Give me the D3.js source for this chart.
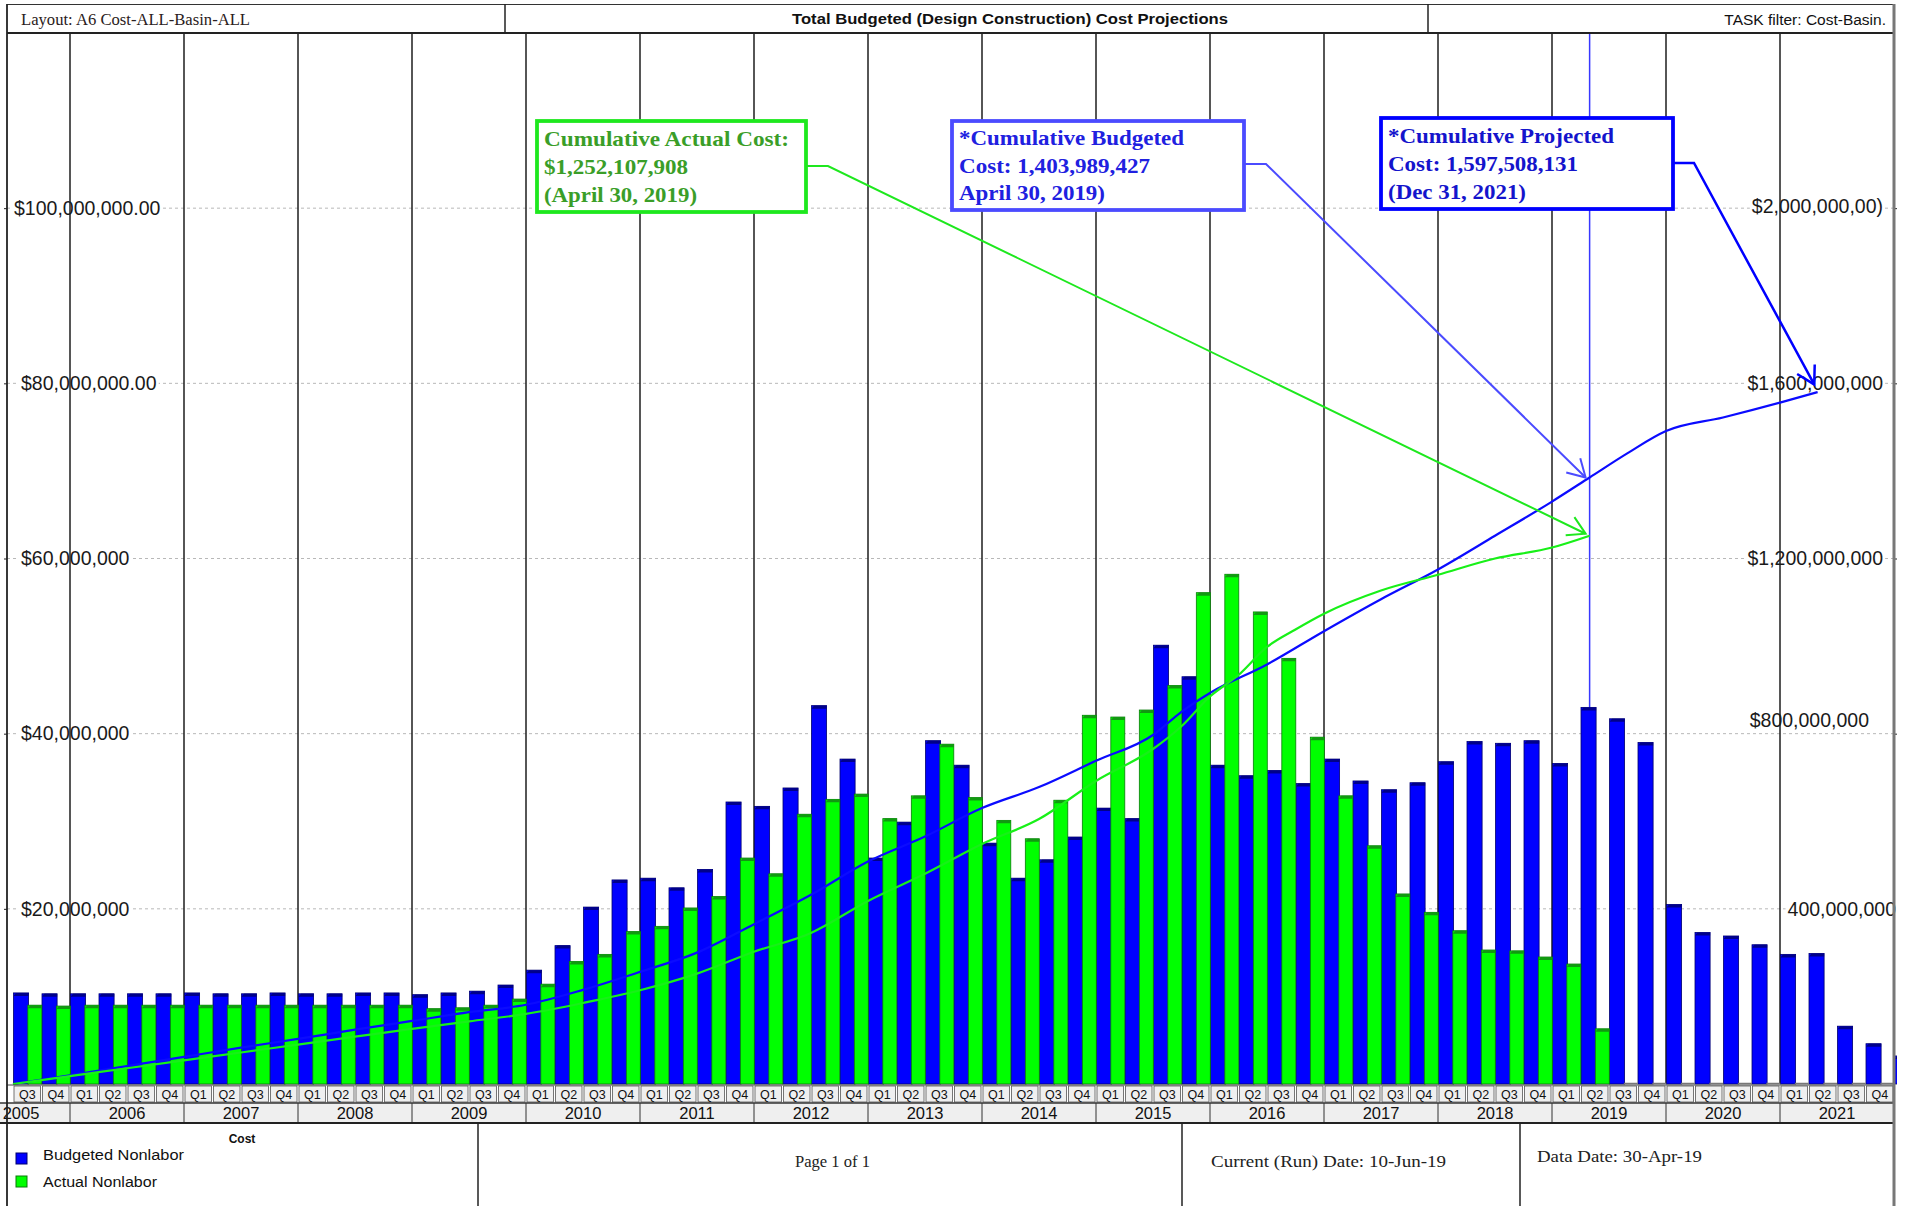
<!DOCTYPE html>
<html>
<head>
<meta charset="utf-8">
<title>Total Budgeted (Design Construction) Cost Projections</title>
<script src="https://cdn.jsdelivr.net/npm/d3@7"></script>
<style>
  body { margin: 0; background: #fff; }
  svg { display: block; }
</style>
</head>
<body>
<div id="chart"></div>
<script>
// quarters on the time axis (the last one is cut by the frame)
var quarters = [
  "2005 Q3","2005 Q4",
  "2006 Q1","2006 Q2","2006 Q3","2006 Q4",
  "2007 Q1","2007 Q2","2007 Q3","2007 Q4",
  "2008 Q1","2008 Q2","2008 Q3","2008 Q4",
  "2009 Q1","2009 Q2","2009 Q3","2009 Q4",
  "2010 Q1","2010 Q2","2010 Q3","2010 Q4",
  "2011 Q1","2011 Q2","2011 Q3","2011 Q4",
  "2012 Q1","2012 Q2","2012 Q3","2012 Q4",
  "2013 Q1","2013 Q2","2013 Q3","2013 Q4",
  "2014 Q1","2014 Q2","2014 Q3","2014 Q4",
  "2015 Q1","2015 Q2","2015 Q3","2015 Q4",
  "2016 Q1","2016 Q2","2016 Q3","2016 Q4",
  "2017 Q1","2017 Q2","2017 Q3","2017 Q4",
  "2018 Q1","2018 Q2","2018 Q3","2018 Q4",
  "2019 Q1","2019 Q2","2019 Q3","2019 Q4",
  "2020 Q1","2020 Q2","2020 Q3","2020 Q4",
  "2021 Q1","2021 Q2","2021 Q3","2021 Q4",
  "2022 Q1"
];

// quarterly cost, $ millions
var budgeted = [
  10.4, 10.3,
  10.3, 10.3, 10.3, 10.3,
  10.4, 10.3, 10.3, 10.4,
  10.3, 10.3, 10.4, 10.4,
  10.2, 10.4, 10.6, 11.3,
  13.0, 15.8, 20.2, 23.3,
  23.5, 22.4, 24.5, 32.2,
  31.7, 33.8, 43.2, 37.1,
  25.8, 29.9, 39.2, 36.4,
  27.5, 23.5, 25.6, 28.2,
  31.5, 30.3, 50.1, 46.5,
  36.4, 35.2, 35.8, 34.3,
  37.1, 34.6, 33.6, 34.4,
  36.8, 39.1, 38.9, 39.2,
  36.6, 43.0, 41.7, 39.0,
  20.5, 17.3, 16.9, 15.9,
  14.8, 14.9, 6.6, 4.6,
  3.2
];
var actual = [
  9.0, 8.9,
  9.0, 9.0, 9.0, 9.0,
  9.0, 9.0, 9.0, 9.0,
  9.0, 9.0, 9.0, 9.0,
  8.6, 8.7, 9.0, 9.7,
  11.4, 14.0, 14.8, 17.4,
  18.0, 20.1, 21.4, 25.8,
  24.0, 30.8, 32.5, 33.1,
  30.3, 32.9, 38.8, 32.7,
  30.1, 28.0, 32.4, 42.1,
  41.9, 42.7, 45.5, 56.1,
  58.2, 53.9, 48.6, 39.6,
  32.9, 27.2, 21.7, 19.6,
  17.5, 15.3, 15.2, 14.5,
  13.7, 6.3, 0, 0,
  0, 0, 0, 0,
  0, 0, 0, 0,
  0
];

// cumulative cost lines, $ billions (right axis), at decimal years
var cumBudgetT = [2005.5, 2006, 2006.5, 2007, 2007.5, 2008, 2008.5, 2009, 2009.5, 2010, 2010.5, 2011, 2011.5, 2012, 2012.5, 2013, 2013.5, 2014, 2014.5, 2015, 2015.5, 2015.75, 2016, 2016.5, 2017, 2017.5, 2018, 2018.5, 2019, 2019.33, 2019.66, 2020, 2020.5, 2021, 2021.33];
var cumBudget  = [0, 0.020, 0.041, 0.062, 0.083, 0.103, 0.124, 0.144, 0.164, 0.181, 0.215, 0.256, 0.300, 0.365, 0.432, 0.508, 0.565, 0.630, 0.678, 0.738, 0.797, 0.850, 0.893, 0.958, 1.034, 1.107, 1.175, 1.252, 1.330, 1.385, 1.440, 1.491, 1.522, 1.556, 1.580];
var cumActualT = [2005.5, 2006, 2006.5, 2007, 2007.5, 2008, 2008.5, 2009, 2009.5, 2010, 2010.5, 2011, 2011.5, 2012, 2012.5, 2013, 2013.5, 2014, 2014.5, 2015, 2015.5, 2015.75, 2016, 2016.25, 2016.5, 2016.75, 2017, 2017.5, 2018, 2018.5, 2019, 2019.33];
var cumActual  = [0, 0.018, 0.036, 0.054, 0.072, 0.090, 0.108, 0.126, 0.143, 0.160, 0.185, 0.214, 0.252, 0.302, 0.345, 0.418, 0.480, 0.548, 0.605, 0.692, 0.765, 0.817, 0.885, 0.934, 0.998, 1.038, 1.074, 1.127, 1.163, 1.200, 1.225, 1.252];

var leftTicks = [20, 40, 60, 80, 100];
var leftLabels = ["$20,000,000", "$40,000,000", "$60,000,000", "$80,000,000.00", "$100,000,000.00"];
var rightTicks = [0.4, 0.8, 1.2, 1.6, 2.0];
var rightLabels = ["400,000,000", "$800,000,000", "$1,200,000,000", "$1,600,000,000", "$2,000,000,00)"];
var years = [2005, 2006, 2007, 2008, 2009, 2010, 2011, 2012, 2013, 2014, 2015, 2016, 2017, 2018, 2019, 2020, 2021];

var dataDate = 2019.33, projectedDate = 2021.3;

var W = 1909, H = 1206;
var frameL = 7, frameR = 1894, plotTop = 33, base = 1084;
var qRowTop = 1086, yRowTop = 1103, footTop = 1123;

var SANS = "'Liberation Sans', Arial, sans-serif";
var SERIF = "'Liberation Serif', 'Times New Roman', serif";

var x = d3.scaleLinear().domain([2005.5, 2022]).range([13, 1894]);
var y = d3.scaleLinear().domain([0, 120]).range([base, plotTop]);
var yR = d3.scaleLinear().domain([0, 2.4]).range([base, plotTop]);

function qTime(s) { var p = s.split(" Q"); return +p[0] + (+p[1] - 1) / 4; }
var qt = quarters.map(qTime);
var qw = x(2006) - x(2005.75);

var svg = d3.select("#chart").append("svg").attr("width", W).attr("height", H);
svg.append("rect").attr("width", W).attr("height", H).attr("fill", "#fff");

svg.append("defs").append("clipPath").attr("id", "plotclip")
  .append("rect").attr("x", frameL).attr("y", 0).attr("width", 1897 - frameL).attr("height", base + 1);

// gridlines
svg.append("g").selectAll("line").data(leftTicks).join("line")
  .attr("x1", frameL).attr("x2", frameR)
  .attr("y1", function(d) { return y(d); }).attr("y2", function(d) { return y(d); })
  .attr("stroke", "#b8b8b8").attr("stroke-dasharray", "3,3");

// left axis
var leftX = [21, 21, 21, 21, 14];
var gl = svg.append("g").attr("transform", "translate(" + frameL + ",0)")
  .call(d3.axisLeft(y).tickValues(leftTicks).tickSize(3).tickFormat(function(d, i) { return leftLabels[i]; }));
gl.select(".domain").remove();
gl.attr("font-family", SANS).attr("font-size", 19.5);
gl.selectAll(".tick line").attr("stroke", "#222");
gl.selectAll(".tick text").attr("x", function(d, i) { return leftX[i] - frameL; })
  .attr("text-anchor", "start").attr("fill", "#1a1a1a");

// right axis
var rightEnd = [1896, 1869, 1883, 1883, 1883];
var rightDy = [0, -13, 0, 0, -2];
var gr = svg.append("g").attr("transform", "translate(" + frameR + ",0)")
  .call(d3.axisRight(yR).tickValues(rightTicks).tickSize(3).tickFormat(function(d, i) { return rightLabels[i]; }));
gr.select(".domain").remove();
gr.attr("font-family", SANS).attr("font-size", 19.5);
gr.selectAll(".tick line").attr("stroke", "#222");
gr.selectAll(".tick text").attr("x", function(d, i) { return rightEnd[i] - frameR; })
  .attr("y", function(d, i) { return rightDy[i]; })
  .attr("text-anchor", "end").attr("fill", "#1a1a1a");

// white behind tick labels so the dashes stop at the text
[gl, gr].forEach(function(g) {
  g.selectAll(".tick").each(function() {
    var t = d3.select(this).select("text");
    var b = t.node().getBBox();
    d3.select(this).insert("rect", "text")
      .attr("x", b.x - 2).attr("y", b.y).attr("width", b.width + 4).attr("height", b.height)
      .attr("fill", "#fff");
  });
});

// year lines
svg.append("g").selectAll("line").data(years.slice(1)).join("line")
  .attr("x1", function(d) { return x(d); }).attr("x2", function(d) { return x(d); })
  .attr("y1", plotTop).attr("y2", base)
  .attr("stroke", "#1e1e1e").attr("stroke-width", 1.5);

// data date line
svg.append("line")
  .attr("x1", x(dataDate)).attr("x2", x(dataDate)).attr("y1", plotTop).attr("y2", base)
  .attr("stroke", "#3838ff").attr("stroke-width", 1.5);

// bars
var gb = svg.append("g").attr("clip-path", "url(#plotclip)");
function drawBars(vals, dx, bw, fill, edge, cap) {
  var g = gb.append("g");
  vals.forEach(function(v, i) {
    var x0 = x(qt[i]) + dx;
    if (v <= 0) {
      g.append("line").attr("x1", x0).attr("x2", x0 + bw).attr("y1", base - 0.5).attr("y2", base - 0.5)
        .attr("stroke", "#777").attr("stroke-width", 1.5);
      return;
    }
    var y0 = y(v);
    g.append("rect").attr("x", x0).attr("y", y0).attr("width", bw).attr("height", base - y0)
      .attr("fill", fill).attr("stroke", edge).attr("stroke-width", 0.8);
    g.append("path")
      .attr("d", "M" + x0 + "," + (y0 + 3) + "L" + (x0 + 2.5) + "," + y0 + "L" + (x0 + bw) + "," + y0 + "L" + (x0 + bw) + "," + (y0 + 3) + "Z")
      .attr("fill", cap);
  });
}
drawBars(budgeted, 0.5, qw * 0.53, "#0000ff", "#00006e", "#00008a");
drawBars(actual, qw * 0.52, qw * 0.49, "#00ff00", "#0a7a0a", "#119911");

// cumulative lines
var line = d3.line().x(function(d) { return x(d[0]); }).y(function(d) { return yR(d[1]); }).curve(d3.curveMonotoneX);
svg.append("path").attr("d", line(d3.zip(cumBudgetT, cumBudget)))
  .attr("fill", "none").attr("stroke", "#0b0bff").attr("stroke-width", 2.2);
svg.append("path").attr("d", line(d3.zip(cumActualT, cumActual)))
  .attr("fill", "none").attr("stroke", "#18f018").attr("stroke-width", 2.2);

// callouts
function callout(box, lines, textColor, boxColor, pts, lineW) {
  var g = svg.append("g");
  g.append("path").attr("d", d3.line()(pts)).attr("fill", "none").attr("stroke", boxColor).attr("stroke-width", lineW);
  var a = pts[pts.length - 2], b = pts[pts.length - 1];
  var ang = Math.atan2(b[1] - a[1], b[0] - a[0]), L = 20, s = Math.PI / 6;
  var p1 = [b[0] - L * Math.cos(ang - s), b[1] - L * Math.sin(ang - s)];
  var p2 = [b[0] - L * Math.cos(ang + s), b[1] - L * Math.sin(ang + s)];
  g.append("path").attr("d", d3.line()([p1, b, p2])).attr("fill", "none").attr("stroke", boxColor).attr("stroke-width", lineW);
  g.append("rect").attr("x", box[0]).attr("y", box[1]).attr("width", box[2] - box[0]).attr("height", box[3] - box[1])
    .attr("fill", "#fff").attr("stroke", boxColor).attr("stroke-width", 3.8);
  lines.forEach(function(l) {
    g.append("text").attr("x", box[0] + 7).attr("y", l[1]).text(l[0])
      .attr("font-family", SERIF).attr("font-weight", "bold").attr("font-size", 21.5)
      .attr("fill", textColor).attr("textLength", l[2]).attr("lengthAdjust", "spacingAndGlyphs");
  });
}
callout([537, 121, 806, 212],
  [["Cumulative Actual Cost:", 146, 245], ["$1,252,107,908", 174, 144], ["(April 30, 2019)", 202, 153]],
  "#3a9e28", "#1ee81e", [[806, 166], [828, 166], [x(dataDate) - 4, yR(1.252) - 2]], 2);
callout([952, 121, 1244, 210],
  [["*Cumulative Budgeted", 145, 225], ["Cost: 1,403,989,427", 173, 191], ["April 30, 2019)", 200, 146]],
  "#2020e0", "#4b4bff", [[1244, 164], [1266, 164], [x(dataDate) - 4, yR(1.385)]], 2);
callout([1381, 118, 1673, 209],
  [["*Cumulative Projected", 143, 226], ["Cost: 1,597,508,131", 171, 190], ["(Dec 31, 2021)", 199, 138]],
  "#1414cc", "#0000ff", [[1673, 163], [1694, 163], [x(projectedDate), yR(1.5975)]], 2.5);

// quarter row
var gq = svg.append("g");
qt.forEach(function(t, i) {
  var x0 = x(t), x1 = Math.min(x(t + 0.25), frameR);
  if (x1 - x0 < 1) return;
  gq.append("rect").attr("x", x0 + 1).attr("y", qRowTop).attr("width", x1 - x0 - 2).attr("height", yRowTop - qRowTop - 1)
    .attr("fill", "#efefef").attr("stroke", "#555").attr("stroke-width", 0.8);
  gq.append("text").attr("x", (x0 + x1) / 2).attr("y", yRowTop - 4).attr("text-anchor", "middle")
    .attr("font-family", SANS).attr("font-size", 12.5).attr("fill", "#111")
    .text("Q" + quarters[i].split(" Q")[1]);
});

// year row (the first year is only half on the chart, keep its label inside the page)
var gy = svg.append("g");
gy.append("rect").attr("x", 0).attr("y", yRowTop).attr("width", frameR).attr("height", footTop - yRowTop)
  .attr("fill", "#efefef");
years.forEach(function(yr) {
  var x1 = x(yr + 1);
  gy.append("line").attr("x1", x1).attr("x2", x1).attr("y1", yRowTop).attr("y2", footTop).attr("stroke", "#333");
  var cx = Math.max(x(yr + 0.5), 21);
  gy.append("text").attr("x", cx).attr("y", footTop - 4).attr("text-anchor", "middle")
    .attr("font-family", SANS).attr("font-size", 16.5).attr("fill", "#111").text(yr);
});
gy.append("line").attr("x1", 0).attr("x2", frameR).attr("y1", yRowTop).attr("y2", yRowTop).attr("stroke", "#333").attr("stroke-width", 1.5);
gy.append("line").attr("x1", 0).attr("x2", frameR).attr("y1", footTop).attr("y2", footTop).attr("stroke", "#222").attr("stroke-width", 2);
svg.append("line").attr("x1", frameL).attr("x2", frameR).attr("y1", base + 1).attr("y2", base + 1).attr("stroke", "#444");

// header
var gh = svg.append("g");
gh.append("line").attr("x1", frameL).attr("x2", frameR).attr("y1", 4.5).attr("y2", 4.5).attr("stroke", "#333").attr("stroke-width", 1.2);
gh.append("line").attr("x1", frameL).attr("x2", frameR).attr("y1", 33).attr("y2", 33).attr("stroke", "#222").attr("stroke-width", 2);
[505, 1428].forEach(function(v) {
  gh.append("line").attr("x1", v).attr("x2", v).attr("y1", 4).attr("y2", 33).attr("stroke", "#222").attr("stroke-width", 1.5);
});
gh.append("text").attr("x", 21).attr("y", 25).text("Layout: A6 Cost-ALL-Basin-ALL")
  .attr("font-family", SERIF).attr("font-size", 16).attr("fill", "#2a2020")
  .attr("textLength", 229).attr("lengthAdjust", "spacingAndGlyphs");
gh.append("text").attr("x", 792).attr("y", 24).text("Total Budgeted (Design Construction) Cost Projections")
  .attr("font-family", SANS).attr("font-weight", "bold").attr("font-size", 15).attr("fill", "#111")
  .attr("textLength", 436).attr("lengthAdjust", "spacingAndGlyphs");
gh.append("text").attr("x", 1886).attr("y", 25).attr("text-anchor", "end").text("TASK filter: Cost-Basin.")
  .attr("font-family", SANS).attr("font-size", 15.5).attr("fill", "#111");

// frame
svg.append("line").attr("x1", frameL).attr("x2", frameL).attr("y1", 4).attr("y2", H).attr("stroke", "#222").attr("stroke-width", 1.8);
svg.append("line").attr("x1", frameR).attr("x2", frameR).attr("y1", 4).attr("y2", H).attr("stroke", "#777").attr("stroke-width", 3);

// footer
var gf = svg.append("g");
[478, 1182, 1520].forEach(function(v) {
  gf.append("line").attr("x1", v).attr("x2", v).attr("y1", footTop).attr("y2", H).attr("stroke", "#222").attr("stroke-width", 1.5);
});
gf.append("text").attr("x", 242).attr("y", 1143).attr("text-anchor", "middle").text("Cost")
  .attr("font-family", SANS).attr("font-weight", "bold").attr("font-size", 12).attr("fill", "#111");
var legend = [["Budgeted Nonlabor", "#0000ff", "#00006e", 1153, 1160, 141], ["Actual Nonlabor", "#00ff00", "#0a7a0a", 1176, 1187, 114]];
legend.forEach(function(l) {
  gf.append("rect").attr("x", 16).attr("y", l[3]).attr("width", 11).attr("height", 11)
    .attr("fill", l[1]).attr("stroke", l[2]).attr("stroke-width", 1);
  gf.append("text").attr("x", 43).attr("y", l[4]).text(l[0])
    .attr("font-family", SANS).attr("font-size", 15.5).attr("fill", "#111")
    .attr("textLength", l[5]).attr("lengthAdjust", "spacingAndGlyphs");
});
[["Page 1 of 1", 795, 1167, 75], ["Current (Run) Date: 10-Jun-19", 1211, 1167, 235], ["Data Date: 30-Apr-19", 1537, 1162, 165]].forEach(function(t) {
  gf.append("text").attr("x", t[1]).attr("y", t[2]).text(t[0])
    .attr("font-family", SERIF).attr("font-size", 16).attr("fill", "#222")
    .attr("textLength", t[3]).attr("lengthAdjust", "spacingAndGlyphs");
});
</script>
</body>
</html>
